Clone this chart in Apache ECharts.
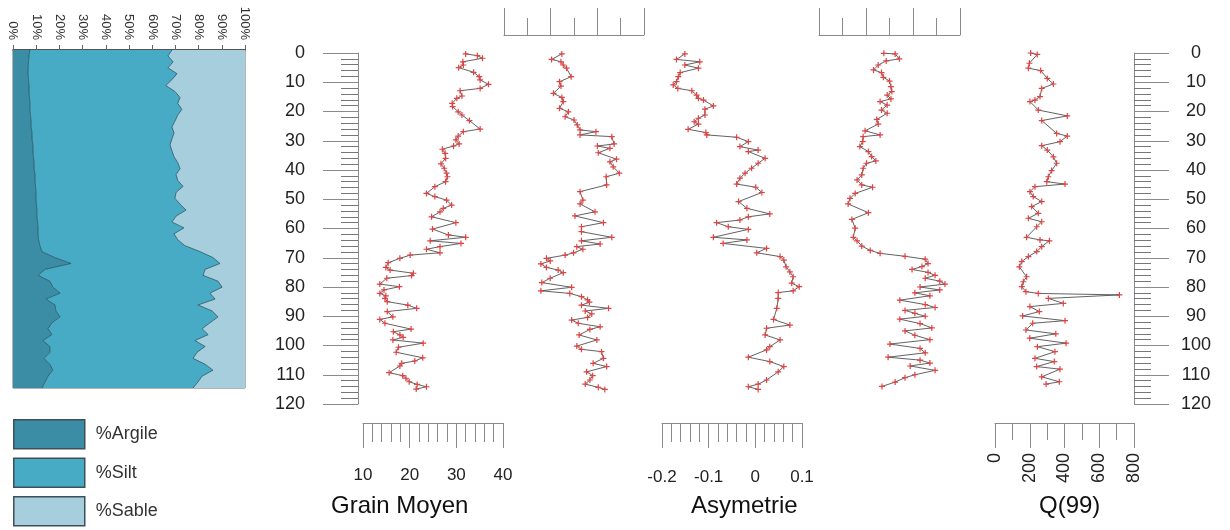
<!DOCTYPE html>
<html><head><meta charset="utf-8">
<script src="https://cdn.jsdelivr.net/npm/echarts@6/dist/echarts.min.js"></script>
<style>html,body{margin:0;padding:0;background:#fff}#c{width:1230px;height:530px}</style>
</head><body><div id="c"></div>
<script>
// ---- texture (stacked %) ----
const areaDepth = [0,2,4,6,8,10,12,14,16,18,20,22,24,26,28,30,32,34,36,38,40,42,44,46,48,50,52,54,56,58,60,62,64,66,68,70,72,74,76,78,80,82,84,86,88,90,92,94,96,98,100,102,104,106,108,110,112,114];
const argile = [7.3,6.9,6.7,6.5,6.5,6.7,6.9,6.9,7.1,7.3,7.3,7.5,7.8,7.8,8.2,8.2,8.6,8.6,8.8,9.1,9.1,9.5,9.5,9.7,9.9,9.9,10.1,10.3,10.3,10.6,10.8,10.8,11,11.6,12.5,18,25,13.8,10.8,15.9,17.2,20.3,14.2,18.1,18.5,20.3,16.8,15.1,16.8,12.9,15.9,15.9,13.4,15.9,17.2,15.1,13.8,12.5];
const silt = [61.2,59.9,62.3,60.3,64.2,61.8,59,62.9,64.9,63.7,65.5,63.5,62,60.7,61.2,60.3,59.1,59.9,60.6,61.9,62.9,60.8,61.5,63.6,60.4,59.9,61.9,64.3,60,57.9,62.9,58.6,60,62.5,68.1,68.2,64.2,69,71.1,72.5,72.9,64.6,72.9,61.6,67.3,68.1,68.1,66.4,67.3,65.5,66.9,63.4,64.2,66.9,69,66.4,65.9,65.1];
const sable = [31.5,33.2,31,33.2,29.3,31.5,34.1,30.2,28,29,27.2,29,30.2,31.5,30.6,31.5,32.3,31.5,30.6,29,28,29.7,29,26.7,29.7,30.2,28,25.4,29.7,31.5,26.3,30.6,29,25.9,19.4,13.8,10.8,17.2,18.1,11.6,9.9,15.1,12.9,20.3,14.2,11.6,15.1,18.5,15.9,21.6,17.2,20.7,22.4,17.2,13.8,18.5,20.3,22.4];

// ---- Grain Moyen ----
const gmDepth = [0.3,0.9,1.8,3,4.1,5,6.6,8.1,9.2,10.7,12.1,12.9,14.7,15.5,17.2,18.3,20.1,21.2,23.1,26,26.9,28.4,29.7,31.1,31.8,32.9,34.3,36,37.9,39.4,41.1,42.3,44,45.7,48,49.1,50.3,52,53.1,54.3,56,58,60.2,62.2,63,64.2,65.1,66.2,67.1,68.3,69.1,70.2,71.7,73.3,74.2,75.3,76.1,77,79,79.9,81,82.2,83,83.9,85,86.2,87.3,88.4,90.2,91.1,92.4,94.4,95.3,96.4,97.2,98.1,99.2,100.6,102.3,104.2,105.3,106.1,107,109.3,110.3,111.2,112.4,113.3,114.1,114.9];
const gmVal = [32.0,34.5,35.6,31.4,31.5,30.5,33.7,34.9,35.1,36.9,35.1,30.8,31.2,30.1,29.1,29.2,30.4,31.2,32.8,35.1,31.5,30.4,29.9,30.6,29.4,27.0,27.6,27.7,26.7,27.4,27.9,28.1,27.7,25.4,23.6,25.4,27.9,29.0,27.2,26.5,24.7,29.9,24.9,28.3,32.0,24.4,31.0,26.5,23.6,26.5,20.1,17.9,15.4,14.9,15.8,20.8,20.4,15.1,13.6,17.8,14.5,13.6,14.9,14.7,15.2,19.6,21.5,15.2,16.4,13.6,14.7,20.3,16.5,17.9,18.6,16.4,22.9,17.6,17.1,22.8,21.1,18.3,17.9,15.6,18.5,19.2,19.9,21.6,23.6,21.4];

// ---- unlabelled panel 2 ----
const p2Depth = [0.3,2.2,3,4.1,5.2,8.1,9.8,11.3,13.8,15.2,16.6,18.9,20.1,21.8,22.9,24.6,26.3,26.9,28,28.6,31.1,31.8,32.6,34.1,36.3,37.2,38.9,41.1,42.3,45.1,47.4,50.3,51.6,54.3,55.7,58,59.4,61.1,63,64.2,65.3,66.2,67.1,68.3,69.1,70.2,71.1,72.1,73.3,74.2,75.1,77,78.5,80.1,81.3,82.2,83.3,84.4,85.2,86.2,87.3,88.2,89.2,90.4,91.3,92.4,93.6,94.5,96.4,98.1,100.2,101.3,102.1,104.4,106.1,107.2,109,110.3,111.8,113.2,114.3,115];
const p2Val = [2.24,2.02,2.22,2.27,2.34,2.44,2.19,2.22,2.06,2.24,2.27,2.19,2.38,2.31,2.5,2.57,2.63,2.97,2.63,3.31,3.36,3.0,3.27,3.02,3.41,3.27,3.34,3.47,3.19,3.2,2.63,2.69,2.63,2.95,2.52,3.13,2.66,2.66,3.31,2.66,3.06,2.56,2.69,2.49,2.31,1.91,1.99,1.79,1.91,2.16,2.27,1.99,1.81,2.45,1.79,2.41,2.66,2.79,2.83,2.66,3.24,2.74,2.88,2.79,2.45,2.59,3.06,2.84,2.61,2.99,2.56,2.66,3.09,3.13,2.91,3.2,2.77,2.9,2.84,2.74,3.02,3.16];

// ---- Asymetrie ----
const asDepth = [0.3,2.2,3,4.1,5.2,6.7,8.1,9.8,10.9,12.1,12.9,14.4,15.5,16.1,18.1,19.2,21.2,22.3,23.5,24.3,26.1,27.2,28,28.8,30.3,32,33.2,33.7,36,37.7,39.4,41.1,42.8,44.8,45.9,47.7,50.8,53.1,55,56,57.1,58,59.4,60.3,63,63.9,65.1,66.8,68.3,69.6,70.8,73.1,74.8,76.5,78.7,79.9,81.3,81.9,83.9,87.3,91.1,93,94.1,96.4,98.1,100.4,101.5,104,105.5,107.2,109,111.8,113.2,114.1,115];
const asVal = [-0.151,-0.169,-0.119,-0.151,-0.122,-0.161,-0.165,-0.169,-0.176,-0.166,-0.136,-0.126,-0.122,-0.111,-0.09,-0.108,-0.108,-0.122,-0.131,-0.122,-0.144,-0.106,-0.104,-0.04,-0.015,-0.033,0.006,-0.015,0.021,0.006,-0.008,-0.022,-0.033,-0.04,0.001,0.014,-0.036,-0.018,0.031,-0.015,-0.033,-0.083,-0.058,-0.015,-0.09,-0.018,-0.069,0.024,0.003,0.053,0.061,0.066,0.074,0.081,0.078,0.094,0.081,0.049,0.049,0.046,0.039,0.074,0.024,0.021,0.053,0.031,0.024,-0.015,0.031,0.061,0.049,0.024,0.006,-0.015,0.006];

// ---- unlabelled panel 4 ----
const p4Depth = [0.1,0.3,2,2.7,4.1,5.8,6.7,8.3,9.6,11.5,13.2,14.4,15.7,16.6,17.8,19.5,20.6,22.7,24.3,26.6,28,28.6,30.3,32,33.7,35.4,36.9,37.7,39.4,41.7,43.4,45.1,45.9,48,49.7,51.6,54.6,56.9,59.9,63,64.2,66,67.5,68.5,69.5,70.5,72,73,74,75,76,77,78,79,80,81,82,83,84.5,86,87,88,89,90,91,92.5,94,95,96.5,98,99.5,101,102.5,104,105,106,107,108.5,110,111,112.5,114];
const p4Val = [2.38,2.62,2.71,2.43,2.26,2.16,2.33,2.37,2.5,2.53,2.55,2.45,2.53,2.3,2.45,2.33,2.45,2.23,2.26,1.98,2.3,1.94,1.93,1.87,2.05,2.12,2.21,2.01,1.94,1.91,1.81,1.91,2.14,1.77,1.66,1.62,2.05,1.7,1.77,1.73,1.81,1.91,2.09,2.3,2.83,3.26,3.32,3.19,2.98,3.32,3.47,3.26,3.57,3.68,3.15,3.57,3.04,3.36,2.72,3.26,3.47,2.83,3.04,3.26,2.72,3.15,3.4,2.83,3.04,3.36,2.51,3.15,3.26,2.47,3.15,3.36,2.94,3.47,3.04,2.83,2.62,2.34];

// ---- Q(99) ----
const qDepth = [0,0.5,3.5,5.2,6,8.7,10.6,12.1,14.9,16.1,16.6,19.5,21.5,23.1,27.5,28.4,30.3,31.7,33.2,35.5,37.7,40.2,42.3,44,44.8,45.7,47.4,49.1,50.8,52.5,54.8,56.5,57.7,59.4,63,63.9,64.2,66.2,67.9,69.6,71.3,73.1,76.5,78.2,79.9,81.6,82.2,82.7,83.9,85.6,86.7,88.4,89.9,91.5,92.4,94.7,96,97.5,99.2,100.4,102.1,104.4,105.5,107.2,108.1,110.7,112.4,113.2];
const qVal = [205,243,198,192,263,301,336,269,259,230,201,249,416,269,355,416,374,269,301,336,355,326,307,298,403,230,201,220,269,211,249,192,269,240,182,259,313,269,240,192,154,140,182,163,154,178,249,716,307,393,201,255,159,403,217,178,350,200,409,244,345,230,341,240,374,269,370,294];

const FONT = '"Liberation Sans", Arial, sans-serif';
const AX = '#8a8a8a';
const pair = (vals, deps) => vals.map((v, i) => [v, deps[i]]);
const PLUS = 'path://M0,4H10V6H0Z M4,0H6V10H4Z';

const chart = echarts.init(document.getElementById('c'), null, {renderer: 'canvas'});

const profGrid = (left, width) => ({left: left, width: width, top: 53, height: 351});
const hiddenY = (g) => ({gridIndex: g, type: 'value', min: 0, max: 120, inverse: true, show: false});
const prof = (name, g, vals, deps) => ({
  name: name, type: 'line', xAxisIndex: g, yAxisIndex: g,
  data: pair(vals, deps), symbol: PLUS, symbolSize: 6,
  itemStyle: {color: '#dd4444'}, lineStyle: {color: '#3a3a3a', width: 0.8},
  animation: false, z: 3
});
const bottomX = (g, min, max, interval, split, extra) => Object.assign({
  gridIndex: g, type: 'value', min: min, max: max, interval: interval, position: 'bottom', offset: 19,
  axisLine: {show: true, onZero: false, lineStyle: {color: AX, width: 1}},
  axisTick: {show: true, length: 25, lineStyle: {color: AX}},
  minorTick: {show: true, splitNumber: split, length: 19, lineStyle: {color: AX}},
  axisLabel: {fontSize: 17, color: '#222', margin: 44, fontFamily: FONT},
  splitLine: {show: false}, minorSplitLine: {show: false}
}, extra || {});
const topX = (g) => ({
  gridIndex: g, type: 'value', min: 1, max: 4, interval: 1, position: 'top', offset: 18,
  axisLine: {show: true, onZero: false, lineStyle: {color: AX, width: 1}},
  axisTick: {show: true, length: 27, lineStyle: {color: AX}},
  minorTick: {show: true, splitNumber: 2, length: 17, lineStyle: {color: AX}},
  axisLabel: {show: false}, splitLine: {show: false}, minorSplitLine: {show: false}
});
const depthAxis = (g, pos) => ({
  gridIndex: g, type: 'value', min: 0, max: 120, interval: 10, inverse: true, position: pos, offset: pos === 'left' ? 5 : 0,
  axisLine: {show: true, onZero: false, lineStyle: {color: AX, width: 1}},
  axisTick: {show: true, length: 35, lineStyle: {color: AX}},
  minorTick: {show: true, splitNumber: 5, length: 17, lineStyle: {color: '#777'}},
  axisLabel: {fontSize: 18, color: '#222', margin: pos === 'left' ? 53 : 62, fontFamily: FONT,
    align: pos === 'left' ? 'right' : 'center'},
  splitLine: {show: false}, minorSplitLine: {show: false}
});

const colArg = '#3b8da6', colSilt = '#48abc6', colSable = '#a6cedc', edge = '#24505e';

chart.setOption({
  animation: false,
  textStyle: {fontFamily: FONT},
  title: [
    {text: 'Grain Moyen', left: 326, top: 489, textStyle: {fontSize: 24, fontWeight: 'normal', color: '#111', fontFamily: FONT}},
    {text: 'Asymetrie', left: 686, top: 489, textStyle: {fontSize: 24, fontWeight: 'normal', color: '#111', fontFamily: FONT}},
    {text: 'Q(99)', left: 1034, top: 489, textStyle: {fontSize: 24, fontWeight: 'normal', color: '#111', fontFamily: FONT}}
  ],
  legend: {
    orient: 'vertical', left: 13, top: 419, padding: 0, height: 110, itemWidth: 71, itemHeight: 29, itemGap: 8,
    textStyle: {fontSize: 18, color: '#333', fontFamily: FONT, padding: [0, 0, 0, 6]},
    selectedMode: false,
    data: [
      {name: '%Argile', icon: 'rect', itemStyle: {color: colArg, borderColor: '#3d4f57', borderWidth: 1.5}},
      {name: '%Silt', icon: 'rect', itemStyle: {color: colSilt, borderColor: '#3d4f57', borderWidth: 1.5}},
      {name: '%Sable', icon: 'rect', itemStyle: {color: colSable, borderColor: '#3d4f57', borderWidth: 1.5}}
    ]
  },
  grid: [
    {left: 13, top: 50, width: 232, height: 338, show: true, borderColor: '#6a6a6a', borderWidth: 1},
    profGrid(363, 140), profGrid(504, 140), profGrid(662, 140), profGrid(819, 141), profGrid(995, 139)
  ],
  xAxis: [
    {gridIndex: 0, type: 'value', min: 0, max: 100, interval: 10, position: 'top',
      axisLine: {show: true, onZero: false, lineStyle: {color: '#333', width: 1.5}},
      axisTick: {show: true, length: 5, lineStyle: {color: '#666'}},
      axisLabel: {rotate: 90, formatter: '{value}%', fontSize: 13, color: '#333', margin: 10, fontFamily: FONT},
      splitLine: {show: false}},
    bottomX(1, 10, 40, 10, 5),
    topX(2),
    bottomX(3, -0.2, 0.1, 0.1, 5, {axisLabel: {fontSize: 17, color: '#222', margin: 46, fontFamily: FONT,
      formatter: v => { const r = Math.round(v * 10) / 10; return r === 0 ? '0' : String(r); }}}),
    topX(4),
    bottomX(5, 0, 800, 200, 2, {offset: 19, axisTick: {show: true, length: 25, lineStyle: {color: AX}},
      minorTick: {show: true, splitNumber: 2, length: 17, lineStyle: {color: AX}},
      axisLabel: {fontSize: 18, color: '#222', margin: 30, rotate: 90, fontFamily: FONT}})
  ],
  yAxis: [
    {gridIndex: 0, type: 'category', data: areaDepth, inverse: true, boundaryGap: false, show: false},
    depthAxis(1, 'left'), hiddenY(2), hiddenY(3), hiddenY(4), depthAxis(5, 'right')
  ],
  series: [
    {name: '%Argile', type: 'line', xAxisIndex: 0, yAxisIndex: 0, stack: 'tex', data: argile, symbol: 'none',
      lineStyle: {color: edge, width: 0.8}, areaStyle: {color: colArg, opacity: 1}, itemStyle: {color: colArg}},
    {name: '%Silt', type: 'line', xAxisIndex: 0, yAxisIndex: 0, stack: 'tex', data: silt, symbol: 'none',
      lineStyle: {color: edge, width: 0.8}, areaStyle: {color: colSilt, opacity: 1}, itemStyle: {color: colSilt}},
    {name: '%Sable', type: 'line', xAxisIndex: 0, yAxisIndex: 0, stack: 'tex', data: sable, symbol: 'none',
      lineStyle: {width: 0}, areaStyle: {color: colSable, opacity: 1}, itemStyle: {color: colSable}},
    prof('Grain Moyen', 1, gmVal, gmDepth),
    prof('P2', 2, p2Val, p2Depth),
    prof('Asymetrie', 3, asVal, asDepth),
    prof('P4', 4, p4Val, p4Depth),
    prof('Q(99)', 5, qVal, qDepth)
  ]
});
</script></body></html>
